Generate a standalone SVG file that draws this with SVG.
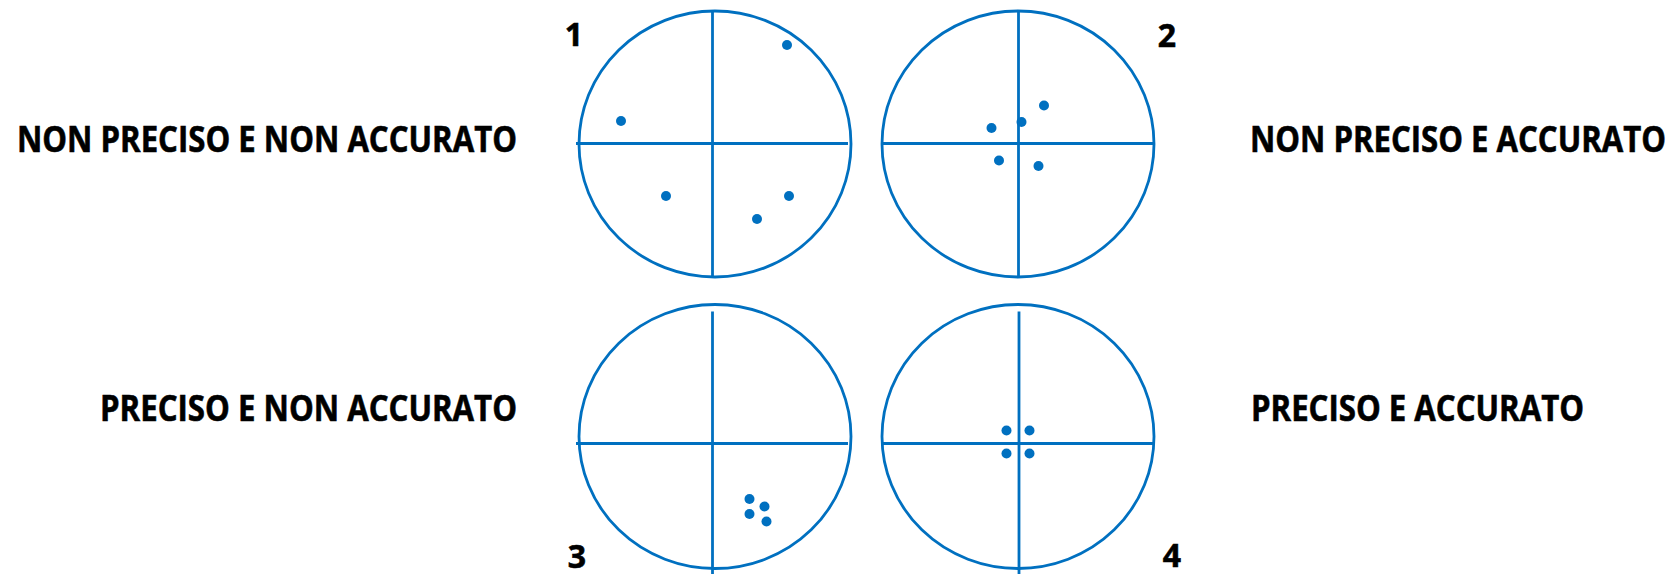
<svg xmlns="http://www.w3.org/2000/svg" width="1675" height="574" viewBox="0 0 1675 574">
<style>
.ring{fill:none;stroke:#0070C0;stroke-width:2.8}
.axis{stroke:#0070C0;stroke-width:2.8}
.dot{fill:#0070C0}
.lbl{font-family:"Open Sans","Liberation Sans",sans-serif;font-weight:bold;font-size:35px;fill:#000;stroke:#000;stroke-width:0.6}
.num{font-family:"Open Sans","Liberation Sans",sans-serif;font-weight:bold;font-size:32px;fill:#000;stroke:#000;stroke-width:0.6;text-anchor:middle}
</style>
<rect width="1675" height="574" fill="#fff"/>
<g id="target1">
<ellipse class="ring" cx="715" cy="144" rx="136" ry="133"/>
<line class="axis" x1="576" y1="143.5" x2="848" y2="143.5"/>
<line class="axis" x1="712.5" y1="11" x2="712.5" y2="276"/>
<circle class="dot" cx="787" cy="45" r="5"/>
<circle class="dot" cx="621" cy="121" r="5"/>
<circle class="dot" cx="666" cy="196" r="5"/>
<circle class="dot" cx="789" cy="196" r="5"/>
<circle class="dot" cx="757" cy="219" r="5"/>
<text class="num" x="574" y="46">1</text>
<text class="lbl" x="17" y="152" textLength="500" lengthAdjust="spacingAndGlyphs">NON PRECISO E NON ACCURATO</text>
</g>
<g id="target2">
<ellipse class="ring" cx="1018" cy="144" rx="136" ry="133"/>
<line class="axis" x1="882" y1="143.5" x2="1155" y2="143.5"/>
<line class="axis" x1="1018.5" y1="11.5" x2="1018.5" y2="276"/>
<circle class="dot" cx="1044" cy="105.5" r="5"/>
<circle class="dot" cx="1021.5" cy="122" r="5"/>
<circle class="dot" cx="991.5" cy="128" r="5"/>
<circle class="dot" cx="999" cy="160.5" r="5"/>
<circle class="dot" cx="1038.5" cy="166" r="5"/>
<text class="num" x="1167" y="47">2</text>
<text class="lbl" x="1250" y="152" textLength="416" lengthAdjust="spacingAndGlyphs">NON PRECISO E ACCURATO</text>
</g>
<g id="target3">
<ellipse class="ring" cx="715" cy="436.5" rx="136" ry="132"/>
<line class="axis" x1="576" y1="443.5" x2="848" y2="443.5"/>
<line class="axis" x1="712.5" y1="311.5" x2="712.5" y2="574"/>
<circle class="dot" cx="749.5" cy="499" r="5"/>
<circle class="dot" cx="764.5" cy="506.5" r="5"/>
<circle class="dot" cx="749.5" cy="514" r="5"/>
<circle class="dot" cx="766.5" cy="521.5" r="5"/>
<text class="num" x="577" y="568">3</text>
<text class="lbl" x="100" y="421" textLength="417" lengthAdjust="spacingAndGlyphs">PRECISO E NON ACCURATO</text>
</g>
<g id="target4">
<ellipse class="ring" cx="1018" cy="436.5" rx="136" ry="132"/>
<line class="axis" x1="882" y1="443.5" x2="1155" y2="443.5"/>
<line class="axis" x1="1019" y1="311.5" x2="1019" y2="574"/>
<circle class="dot" cx="1006.5" cy="430.5" r="5"/>
<circle class="dot" cx="1029.5" cy="430.5" r="5"/>
<circle class="dot" cx="1006.5" cy="453.5" r="5"/>
<circle class="dot" cx="1029.5" cy="453.5" r="5"/>
<text class="num" x="1172" y="567">4</text>
<text class="lbl" x="1251" y="421" textLength="333" lengthAdjust="spacingAndGlyphs">PRECISO E ACCURATO</text>
</g>
<g id="connectors"></g>
</svg>
